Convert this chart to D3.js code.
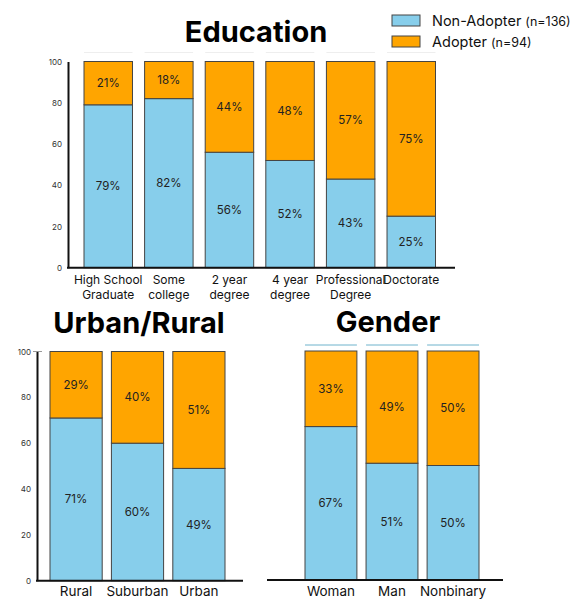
<!DOCTYPE html>
<html lang="en">
<head>
  <title>Adoption by group</title>
  <script src="https://cdn.jsdelivr.net/npm/d3@7"></script>
  <style>
    body { margin: 0; background: #fff; }
    text { font-family: Inter, "Noto Sans", sans-serif; }
  </style>
</head>
<body>
  <script>
    // data
    const eduCats = ["High School|Graduate", "Some|college", "2 year|degree", "4 year|degree", "Professional|Degree", "Doctorate"];
    const eduNon = [79, 82, 56, 52, 43, 25];
    const eduAdopt = [21, 18, 44, 48, 57, 75];

    const urbanCats = ["Rural", "Suburban", "Urban"];
    const urbanNon = [71, 60, 49];
    const urbanAdopt = [29, 40, 51];

    const genderCats = ["Woman", "Man", "Nonbinary"];
    const genderNon = [67, 51, 50];
    const genderAdopt = [33, 49, 50];

    const yTicks = [0, 20, 40, 60, 80, 100];
    const seriesNames = ["Non-Adopter", "Adopter"];
    const seriesCounts = ["(n=136)", "(n=94)"];
    const colors = ["#87CEEB", "#FFA500"];

    const svg = d3.select("body").append("svg")
      .attr("width", 577)
      .attr("height", 599);

    function drawPanel(opt) {
      let rows = opt.cats.map((c, i) => ({ cat: c, non: opt.non[i], adopt: opt.adopt[i] }));
      let stacked = d3.stack().keys(["non", "adopt"])(rows);

      let x = d3.scaleBand()
        .domain(opt.cats)
        .range(opt.xRange)
        .paddingInner(opt.pad)
        .paddingOuter(0);
      let y = d3.scaleLinear()
        .domain([0, 100])
        .range(opt.yRange);

      let g = svg.append("g");

      // title
      g.append("text")
        .attr("x", opt.titleX)
        .attr("y", opt.titleY)
        .attr("text-anchor", "middle")
        .attr("font-size", 29)
        .attr("font-weight", 700)
        .attr("fill", "#000")
        .text(opt.title);

      // little marks above the bars
      if (opt.topMarks) {
        g.selectAll(".topmark").data(opt.cats).join("line")
          .attr("x1", d => x(d))
          .attr("x2", d => x(d) + x.bandwidth())
          .attr("y1", opt.topMarkY)
          .attr("y2", opt.topMarkY)
          .attr("stroke", opt.topMarks)
          .attr("stroke-width", 1);
      }

      // bars
      g.selectAll(".layer").data(stacked).join("g")
        .attr("fill", (d, i) => colors[i])
        .selectAll("rect").data(d => d).join("rect")
        .attr("x", d => x(d.data.cat))
        .attr("y", d => y(d[1]))
        .attr("width", x.bandwidth())
        .attr("height", d => y(d[0]) - y(d[1]))
        .attr("stroke", "#444")
        .attr("stroke-width", 1);

      // percent labels
      g.selectAll(".layerlab").data(stacked).join("g")
        .selectAll("text").data(d => d).join("text")
        .attr("x", d => x(d.data.cat) + x.bandwidth() / 2)
        .attr("y", d => y((d[0] + d[1]) / 2))
        .attr("text-anchor", "middle")
        .attr("dominant-baseline", "central")
        .attr("font-family", "DejaVu Sans")
        .attr("font-size", 11.5)
        .attr("fill", "#222")
        .text(d => (d[1] - d[0]) + "%");

      // y axis
      if (opt.yAxisX !== undefined) {
        let yAxisG = g.append("g")
          .attr("transform", `translate(${opt.yAxisX},0)`)
          .call(d3.axisLeft(y).tickValues(yTicks).tickSize(0).tickPadding(6));
        yAxisG.select(".domain").attr("stroke", "#111").attr("stroke-width", 2);
        yAxisG.selectAll("text")
          .attr("font-family", "DejaVu Sans")
          .attr("font-size", 8)
          .attr("fill", "#333");
        if (opt.topTick) {
          yAxisG.append("line")
            .attr("x1", -4).attr("x2", 5)
            .attr("y1", y(100)).attr("y2", y(100))
            .attr("stroke", "#999").attr("stroke-width", 1);
        }
      }

      // x axis line
      g.append("line")
        .attr("x1", opt.xLine[0])
        .attr("x2", opt.xLine[1])
        .attr("y1", y(0))
        .attr("y2", y(0))
        .attr("stroke", "#111")
        .attr("stroke-width", 2);

      // category labels
      let labs = g.selectAll(".cat").data(opt.cats).join("text")
        .attr("text-anchor", "middle")
        .attr("font-size", opt.catSize)
        .attr("fill", "#111");
      labs.selectAll("tspan").data(d => d.split("|").map(t => ({ t, c: d }))).join("tspan")
        .attr("x", d => x(d.c) + x.bandwidth() / 2)
        .attr("y", (d, i) => opt.catY + i * opt.catStep)
        .text(d => d.t);
    }

    drawPanel({
      title: "Education", titleX: 256, titleY: 42,
      cats: eduCats, non: eduNon, adopt: eduAdopt,
      xRange: [84, 435.5], pad: 0.2, yRange: [267.7, 61.5],
      yAxisX: 68, xLine: [67, 455],
      catSize: 12, catY: 284, catStep: 14.5,
      topMarks: "#eee", topMarkY: 52.5
    });

    drawPanel({
      title: "Urban/Rural", titleX: 139, titleY: 333,
      cats: urbanCats, non: urbanNon, adopt: urbanAdopt,
      xRange: [50, 225], pad: 0.15, yRange: [580.7, 351.5],
      yAxisX: 37, xLine: [36, 243], topTick: true,
      catSize: 13.5, catY: 595.5, catStep: 0
    });

    drawPanel({
      title: "Gender", titleX: 388, titleY: 332,
      cats: genderCats, non: genderNon, adopt: genderAdopt,
      xRange: [305, 479], pad: 0.15, yRange: [580, 351],
      xLine: [267, 503],
      catSize: 13.5, catY: 595.5, catStep: 0,
      topMarks: "#6fb3cc", topMarkY: 345
    });

    // legend
    let legend = svg.append("g");
    seriesNames.forEach((name, i) => {
      let row = legend.append("g").attr("transform", `translate(392, ${15 + i * 21})`);
      row.append("rect")
        .attr("width", 28).attr("height", 11)
        .attr("fill", colors[i])
        .attr("stroke", "#444").attr("stroke-width", 1);
      let t = row.append("text")
        .attr("x", 40).attr("y", 10.5)
        .attr("font-size", 14.5)
        .attr("fill", "#111");
      t.append("tspan").text(name);
      t.append("tspan").attr("dx", 4).attr("font-size", 12.5).text(seriesCounts[i]);
    });
  </script>
</body>
</html>
